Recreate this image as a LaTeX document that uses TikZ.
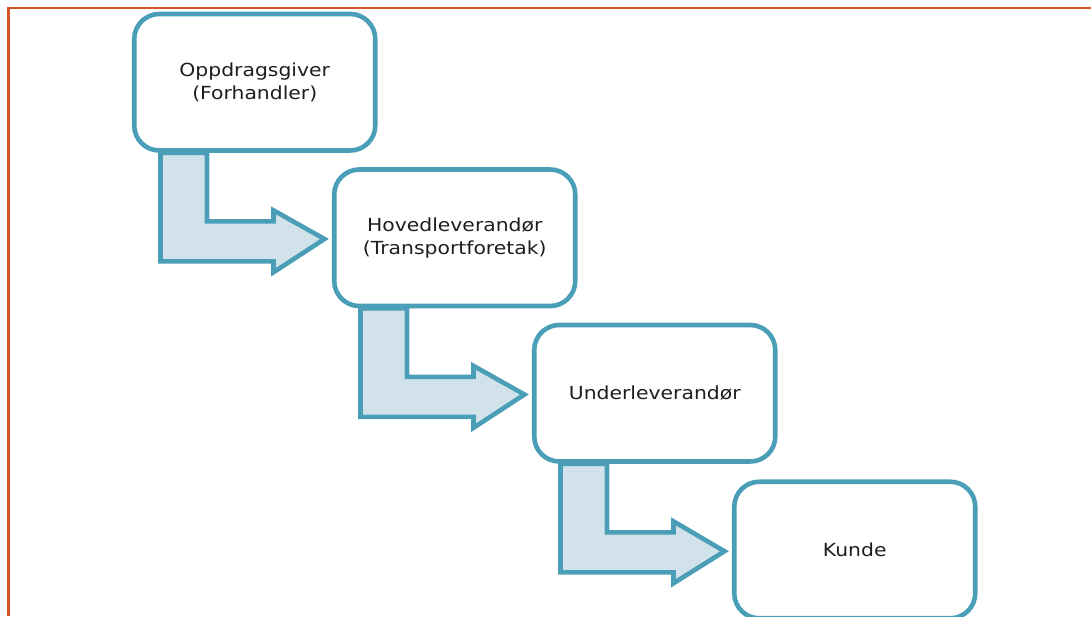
\documentclass[tikz,border=0pt]{standalone}
\usepackage{fontspec}
\newfontfamily\boxfont[FakeStretch=1.13]{DejaVu Sans}
\usetikzlibrary{calc}
\pgfdeclarelayer{background}
\pgfsetlayers{background,main}
\definecolor{teal}{HTML}{4A9EB7}
\definecolor{arrowfill}{HTML}{D1E2EA}
\definecolor{framecol}{HTML}{D9502A}
\definecolor{txt}{HTML}{1E1E1E}
\tikzset{
  stagebox/.style={draw=teal, line width=4.6pt, fill=white, rounded corners=25pt,
    minimum width=241pt, minimum height=136.5pt, inner sep=0pt, align=center,
    text=txt, font=\boxfont\fontsize{18}{23}\selectfont},
  flowarrow/.style={draw=teal, line width=4.6pt, fill=arrowfill, line join=miter},
  frameline/.style={draw=framecol, line width=2.4pt}
}
\newcommand{\bentarrow}[2]{%
  \draw[flowarrow] ($(#1.south west)+(28.5,0)$) -- ++(0,108.5) -- ++(113,0) -- ++(0,11)
    -- ($(#2.west)+(-7.5,1.25)$) -- ($(#1.south west)+(141.5,57.5)$) -- ++(0,11)
    -- ++(-66.5,0) -- ($(#1.south west)+(75,0)$) -- cycle;}
\begin{document}
\begin{tikzpicture}[x=1pt,y=-1pt]
\useasboundingbox (0,0) rectangle (1091,616);
\draw[frameline] (8.3,616) -- (8.3,7.8) -- (1091,7.8);
\node[stagebox] (b1) at (254.75,82.25) {Oppdragsgiver\\(Forhandler)};
\node[stagebox] (b2) at (454.75,237.75) {Hovedleverandør\\(Transportforetak)};
\node[stagebox] (b3) at (654.75,393.25) {Underleverandør};
\node[stagebox] (b4) at (854.75,550) {Kunde};
\begin{pgfonlayer}{background}
\bentarrow{b1}{b2}
\bentarrow{b2}{b3}
\bentarrow{b3}{b4}
\end{pgfonlayer}
\end{tikzpicture}
\end{document}
